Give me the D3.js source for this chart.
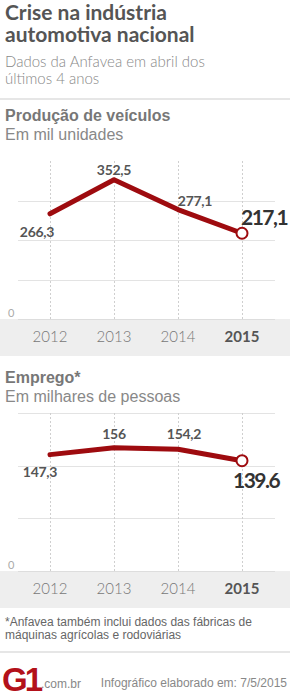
<!DOCTYPE html>
<html>
<head>
<meta charset="utf-8">
<title>Crise na indústria automotiva nacional</title>
<script src="https://cdn.jsdelivr.net/npm/d3@7"></script>
<style>
  body { margin: 0; background: #fff; }
  svg { display: block; }
  .geo { font-family: Lato, "Open Sans", sans-serif; }
  .hel { font-family: "Liberation Sans", Arial, sans-serif; }
</style>
</head>
<body>
<svg id="chart" width="290" height="697"></svg>
<script>
// data
var years = ['2012', '2013', '2014', '2015'];
var producao = [266.3, 352.5, 277.1, 217.1];
var emprego = [147.3, 156, 154.2, 139.6];
var producaoLabels = ['266,3', '352,5', '277,1', '217,1'];
var empregoLabels = ['147,3', '156', '154,2', '139.6'];
var producaoGrid = [100, 200, 300];
var empregoGrid = [200 / 3, 400 / 3, 200];

var W = 290;
var red = '#9e0b0f';
var svg = d3.select('#chart');

// header
svg.append('text').attr('class', 'geo').attr('x', 5).attr('y', 20)
  .attr('font-size', 21).attr('font-weight', 700).attr('fill', '#555')
  .text('Crise na indústria');
svg.append('text').attr('class', 'geo').attr('x', 5).attr('y', 42)
  .attr('font-size', 21).attr('font-weight', 700).attr('fill', '#555')
  .text('automotiva nacional');
svg.append('text').attr('class', 'geo').attr('x', 5).attr('y', 67)
  .attr('font-size', 15).attr('font-weight', 300).attr('fill', '#888')
  .text('Dados da Anfavea em abril dos');
svg.append('text').attr('class', 'geo').attr('x', 5).attr('y', 84)
  .attr('font-size', 15).attr('font-weight', 300).attr('fill', '#888')
  .text('últimos 4 anos');
svg.append('rect').attr('x', 0).attr('y', 98).attr('width', W).attr('height', 2).attr('fill', '#e6e6e6');

function drawChart(opt) {
  var g = svg.append('g');
  g.append('text').attr('class', 'hel').attr('x', 5).attr('y', opt.titleY)
    .attr('font-size', 16).attr('font-weight', 700).attr('fill', '#777').text(opt.title);
  g.append('text').attr('class', 'hel').attr('x', 5).attr('y', opt.titleY + 19)
    .attr('font-size', 16).attr('fill', '#888').text(opt.sub);

  var x = d3.scalePoint().domain(years).range([50, 242]);
  var y = d3.scaleLinear().domain([0, opt.max]).range([opt.base, opt.top]);

  // grey axis band
  g.append('rect').attr('x', 0).attr('y', opt.base).attr('width', W).attr('height', 37).attr('fill', '#eeeeee');

  // horizontal gridlines
  g.selectAll('.hgrid').data(opt.grid).enter().append('line')
    .attr('x1', 18).attr('x2', 275)
    .attr('y1', function (d) { return Math.round(y(d)) + 0.5; })
    .attr('y2', function (d) { return Math.round(y(d)) + 0.5; })
    .attr('stroke', '#e3e3e3').attr('stroke-width', 1);

  // vertical dashed lines
  g.selectAll('.vgrid').data(years).enter().append('line')
    .attr('x1', function (d) { return x(d) + 0.5; })
    .attr('x2', function (d) { return x(d) + 0.5; })
    .attr('y1', y(opt.max)).attr('y2', opt.base)
    .attr('stroke', '#cfcfcf').attr('stroke-dasharray', '2,2');

  g.append('line').attr('x1', 18).attr('x2', 275).attr('y1', opt.base + 0.5).attr('y2', opt.base + 0.5)
    .attr('stroke', '#ddd');

  g.append('text').attr('class', 'geo').attr('x', 8).attr('y', opt.base - 2)
    .attr('font-size', 11).attr('fill', '#aaa').text('0');

  // year labels
  g.selectAll('.year').data(years).enter().append('text')
    .attr('class', 'geo')
    .attr('x', function (d) { return x(d); })
    .attr('y', opt.base + 23)
    .attr('text-anchor', 'middle')
    .attr('font-size', 15)
    .attr('font-weight', function (d, i) { return i === years.length - 1 ? 700 : 300; })
    .attr('fill', function (d, i) { return i === years.length - 1 ? '#555' : '#777'; })
    .text(function (d) { return d; });

  // line
  var line = d3.line()
    .x(function (d, i) { return x(years[i]); })
    .y(function (d) { return y(d); });
  g.append('path').datum(opt.values)
    .attr('d', line).attr('fill', 'none')
    .attr('stroke', red).attr('stroke-width', 5)
    .attr('stroke-linecap', 'round').attr('stroke-linejoin', 'round');

  var last = opt.values.length - 1;
  g.append('circle')
    .attr('cx', x(years[last])).attr('cy', y(opt.values[last]))
    .attr('r', 5.5).attr('fill', '#fff').attr('stroke', red).attr('stroke-width', 2);

  // value labels
  g.selectAll('.val').data(opt.values).enter().append('text')
    .attr('class', 'geo')
    .attr('x', function (d, i) { return x(years[i]) + opt.offs[i][0]; })
    .attr('y', function (d, i) { return y(d) + opt.offs[i][1]; })
    .attr('text-anchor', function (d, i) { return opt.offs[i][2]; })
    .attr('font-size', function (d, i) { return i === last ? 21 : 14; })
    .attr('font-weight', 700)
    .attr('fill', function (d, i) { return i === last ? '#333' : '#555'; })
    .attr('letter-spacing', function (d, i) { return i === last ? -1.5 : -0.3; })
    .text(function (d, i) { return opt.labels[i]; });
}

drawChart({
  title: 'Produção de veículos', sub: 'Em mil unidades', titleY: 121,
  values: producao, labels: producaoLabels, grid: producaoGrid,
  max: 400, top: 161, base: 319,
  offs: [[-13, 23, 'middle'], [0, -5, 'middle'], [17, -4, 'middle'], [-1, -8, 'start']]
});

drawChart({
  title: 'Emprego*', sub: 'Em milhares de pessoas', titleY: 383,
  values: emprego, labels: empregoLabels, grid: empregoGrid,
  max: 200, top: 413, base: 571,
  offs: [[-10, 22, 'middle'], [0, -9, 'middle'], [6, -10, 'middle'], [-9, 27, 'start']]
});

// footer
svg.append('text').attr('class', 'hel').attr('x', 5).attr('y', 626)
  .attr('font-size', 12).attr('fill', '#666').text('*Anfavea também inclui dados das fábricas de');
svg.append('text').attr('class', 'hel').attr('x', 5).attr('y', 639)
  .attr('font-size', 12).attr('fill', '#666').text('máquinas agrícolas e rodoviárias');
svg.append('rect').attr('x', 0).attr('y', 651).attr('width', W).attr('height', 2).attr('fill', '#e6e6e6');

svg.append('text').attr('class', 'hel').attr('x', 2).attr('y', 691)
  .attr('font-size', 33).attr('font-weight', 900).attr('fill', '#b3111a')
  .attr('letter-spacing', -3).text('G1');
svg.append('text').attr('class', 'hel').attr('x', 41).attr('y', 688)
  .attr('font-size', 12).attr('fill', '#888').text('.com.br');
svg.append('text').attr('class', 'hel').attr('x', 287).attr('y', 687)
  .attr('text-anchor', 'end').attr('font-size', 12).attr('fill', '#888')
  .text('Infográfico elaborado em: 7/5/2015');
</script>
</body>
</html>
